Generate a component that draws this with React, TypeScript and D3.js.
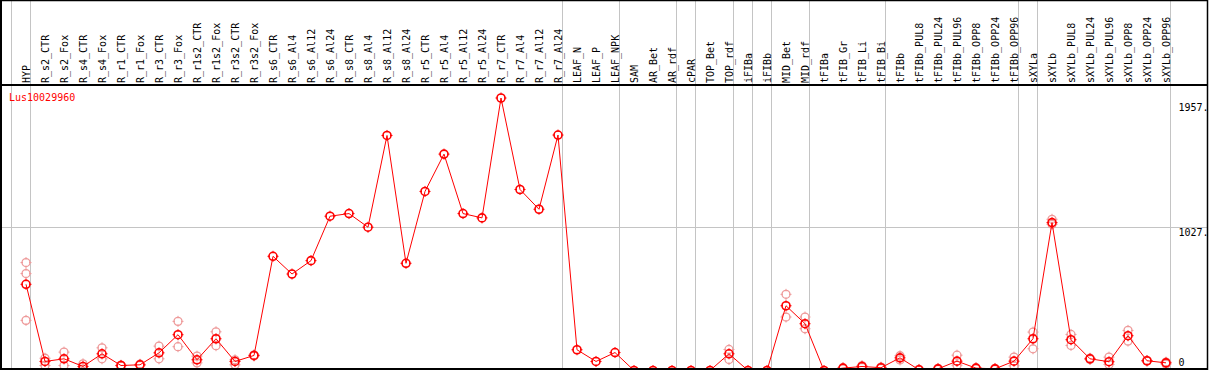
import React from "react";
import * as d3 from "d3";

const categories = [
  "HYP", "R_s2_CTR", "R_s2_Fox", "R_s4_CTR", "R_s4_Fox", "R_r1_CTR", "R_r1_Fox", "R_r3_CTR", "R_r3_Fox",
  "R_r1s2_CTR", "R_r1s2_Fox", "R_r3s2_CTR", "R_r3s2_Fox", "R_s6_CTR", "R_s6_Al4", "R_s6_Al12", "R_s6_Al24",
  "R_s8_CTR", "R_s8_Al4", "R_s8_Al12", "R_s8_Al24", "R_r5_CTR", "R_r5_Al4", "R_r5_Al12", "R_r5_Al24",
  "R_r7_CTR", "R_r7_Al4", "R_r7_Al12", "R_r7_Al24", "LEAF_N", "LEAF_P", "LEAF_NPK", "SAM", "AR_Bet", "AR_rdf",
  "cPAR", "TOP_Bet", "TOP_rdf", "iFIBa", "iFIBb", "MID_Bet", "MID_rdf", "tFIBa", "tFIB_Gr", "tFIB_Li", "tFIB_Bi",
  "tFIBb", "tFIBb_PUL8", "tFIBb_PUL24", "tFIBb_PUL96", "tFIBb_OPP8", "tFIBb_OPP24", "tFIBb_OPP96",
  "sXYLa", "sXYLb", "sXYLb_PUL8", "sXYLb_PUL24", "sXYLb_PUL96", "sXYLb_OPP8", "sXYLb_OPP24", "sXYLb_OPP96",
];

const meanValues = [
  619, 65, 84, 29, 120, 36, 41, 127, 257, 77, 228, 65, 108,
  820, 693, 789, 1108, 1127, 1029, 1688, 770, 1286, 1554, 1127, 1096, 1957, 1300, 1158, 1691,
  149, 65, 129, 0, 0, 0, 0, 0, 120, 0, 0, 465, 336,
  0, 17, 29, 20, 91, 5, 12, 67, 17, 12, 67,
  228, 1062, 221, 84, 63, 250, 70, 55,
];

const replicateValues = [
  [775, 696, 360], [88, 36], [132, 36], [48, 10], [163, 84], [38, 34], [45, 37], [175, 84], [353, 171],
  [103, 55], [278, 178], [77, 41], [112, 104], [], [], [], [], [], [], [], [], [], [], [], [], [], [], [], [],
  [], [], [], [], [], [], [], [], [151, 79], [], [], [547, 384], [384, 300],
  [], [20, 14], [35, 23], [24, 16], [106, 76], [8, 2], [15, 9], [110, 38], [20, 14], [15, 9], [96, 34],
  [276, 156], [1086, 1050], [259, 180], [88, 80], [96, 43], [288, 211], [72, 68], [60, 46],
];

const groupSizes = [1, 28, 3, 3, 1, 2, 1, 1, 2, 4, 7, 1, 7];
const tickValues = [1957, 1027, 0];
const tickLabels = ["1957.", "1027.", "0"];
const gridValues = [1027];
const geneName = "Lus10029960";

const W = 1209;
const H = 370;
const FONT = "'DejaVu Sans Mono', 'Liberation Mono', monospace";

export default function App() {
  const n = categories.length;
  const col = d3.scaleLinear().domain([0, n]).range([11.5, 11.5 + 19 * n]);
  const px = (i: number) => col(i) + 14.5;
  const y = d3.scaleLinear().domain([0, 1957]).range([370.5, 98]);
  const yLabel = d3.scaleLinear().domain([0, 1957]).range([375.6, 110.5]);

  const boundaries = [0, ...d3.cumsum(groupSizes)];
  const line = d3
    .line<number>()
    .x((_, i) => px(i))
    .y((d) => y(d));

  const marker = (cx: number, cy: number, color: string, sw: number, key: string) => (
    <g key={key}>
      <circle cx={cx} cy={cy} r={4} fill="none" stroke={color} strokeWidth={sw} />
      <line x1={cx} x2={cx} y1={cy - 5.5} y2={cy - 3} stroke={color} strokeWidth={1} />
      <line x1={cx} x2={cx} y1={cy + 3} y2={cy + 5.5} stroke={color} strokeWidth={1} />
      <line x1={cx - 5.5} x2={cx - 3} y1={cy} y2={cy} stroke={color} strokeWidth={1} />
      <line x1={cx + 3} x2={cx + 5.5} y1={cy} y2={cy} stroke={color} strokeWidth={1} />
    </g>
  );

  return (
    <div style={{ position: "fixed", left: 0, top: 0, width: W, height: H, background: "#fff" }}>
      <svg width={W} height={H} style={{ display: "block" }}>
        <rect x={0} y={0} width={W} height={H} fill="#fff" />
        {/* horizontal grid */}
        {gridValues.map((v) => (
          <line key={"g" + v} x1={0} x2={1207} y1={Math.round(y(v)) + 0.5} y2={Math.round(y(v)) + 0.5}
            stroke="#c4c4c4" strokeWidth={1} shapeRendering="crispEdges" />
        ))}
        {/* group separators */}
        {boundaries.map((b) => (
          <line key={"b" + b} x1={col(b)} x2={col(b)} y1={0} y2={H}
            stroke="#c4c4c4" strokeWidth={1} shapeRendering="crispEdges" />
        ))}
        <defs>
          <clipPath id="plotclip">
            <rect x={0} y={86} width={1207} height={282} />
          </clipPath>
        </defs>
        <g clipPath="url(#plotclip)">
          {replicateValues.map((reps, i) =>
            reps.map((v, j) => marker(px(i), y(v), "#ee9a9a", 1.3, `r${i}-${j}`))
          )}
          <path d={line(meanValues) || ""} fill="none" stroke="#ff0000" strokeWidth={1} />
          {meanValues.map((v, i) => marker(px(i), y(v), "#ff0000", 1.6, `m${i}`))}
        </g>
        {/* borders */}
        <line x1={0} x2={1208} y1={0.5} y2={0.5} stroke="#000" strokeWidth={1.5} />
        <line x1={1} x2={1} y1={0} y2={H} stroke="#000" strokeWidth={2} />
        <line x1={1207.5} x2={1207.5} y1={0} y2={H} stroke="#000" strokeWidth={1.5} />
        <line x1={0} x2={1208} y1={85} y2={85} stroke="#000" strokeWidth={2} />
        <line x1={0} x2={1208} y1={369} y2={369} stroke="#000" strokeWidth={2} />
        {/* category labels */}
        {categories.map((c, i) => (
          <text key={"c" + i} transform={`translate(${col(i) + 18},83) rotate(-90)`}
            fontFamily={FONT} fontSize={10} fill="#000">{c}</text>
        ))}
        {/* gene name */}
        <text x={9} y={101} fontFamily={FONT} fontSize={10} fill="#ff0000">{geneName}</text>
        {/* y tick labels */}
        {tickValues.map((v, i) => (
          <text key={"t" + v} x={1178.5} y={Math.min(yLabel(v), 365.5)} fontFamily={FONT} fontSize={10} fill="#000">
            {tickLabels[i]}
          </text>
        ))}
      </svg>
    </div>
  );
}
